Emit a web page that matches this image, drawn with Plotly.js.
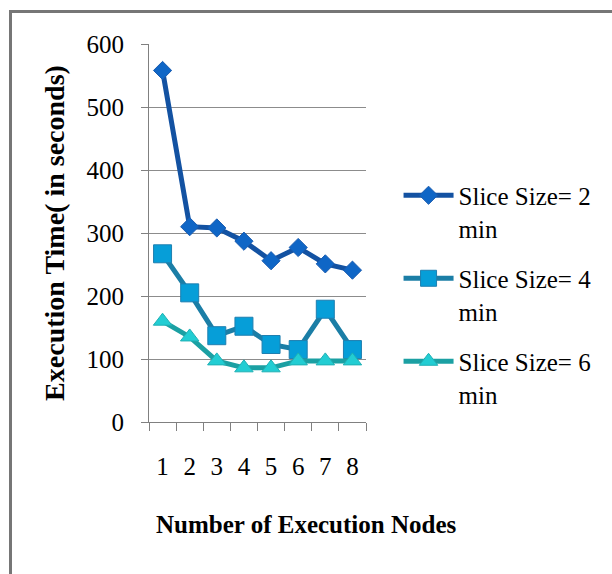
<!DOCTYPE html>
<html>
<head>
<meta charset="utf-8">
<script src="https://cdn.plot.ly/plotly-3.0.1.min.js"></script>
<style>
  html, body { margin: 0; padding: 0; background: #ffffff; }
  #wrap { position: relative; width: 612px; height: 574px; overflow: hidden; }
  #frame { position: absolute; left: 9px; top: 10px; width: 620px; height: 600px;
           border-left: 3px solid #767676; border-top: 3px solid #767676; }
  #chart { position: absolute; left: 0; top: 0; width: 612px; height: 574px; }
</style>
</head>
<body>
<div id="wrap">
  <div id="frame"></div>
  <div id="chart"></div>
</div>
<script>
const nodes = ['1', '2', '3', '4', '5', '6', '7', '8'];
const slice2 = [558, 310, 308, 287, 256, 277, 251, 241];
const slice4 = [267, 205, 137, 152, 123, 115, 179, 115];
const slice6 = [160, 135, 97, 86, 86, 97, 97, 97];
const seriesNames = ['Slice Size= 2<br>min', 'Slice Size= 4<br>min', 'Slice Size= 6<br>min'];
const yTicks = [0, 100, 200, 300, 400, 500, 600];

const serif = 'Liberation Serif';
const legendName = s => '<span style="font-family:Liberation Serif">' + s.split('<br>').join('</span><br><span style="font-family:Liberation Serif">') + '</span>';

const traces = [
  {
    x: nodes, y: slice2, name: legendName(seriesNames[0]), legendgroup: 'g1', type: 'scatter', mode: 'lines+markers',
    line: {color: '#1352a2', width: 5},
    marker: {symbol: 'diamond', size: 14, color: '#0f66c6', line: {color: '#1a5cb0', width: 1}}
  },
  {
    x: nodes, y: slice4, name: legendName(seriesNames[1]), legendgroup: 'g2', type: 'scatter', mode: 'lines+markers',
    line: {color: '#1b7ea6', width: 5},
    marker: {symbol: 'square', size: 18, color: '#069ed8', line: {color: '#1f7fb0', width: 1}}
  },
  {
    x: nodes, y: slice6, name: legendName(seriesNames[2]), legendgroup: 'g3', type: 'scatter', mode: 'lines+markers',
    line: {color: '#1ba0a3', width: 5},
    marker: {symbol: 'triangle-up', size: 16, color: '#22cdd3', line: {color: '#1fb0b4', width: 1}}
  }
];

const layout = {
  width: 612, height: 574,
  paper_bgcolor: 'rgba(0,0,0,0)',
  plot_bgcolor: 'rgba(0,0,0,0)',
  margin: {l: 149, r: 246, t: 43.5, b: 152, pad: 0},
  font: {family: serif, color: '#000000', size: 25},
  showlegend: true,
  xaxis: {
    type: 'category',
    range: [-0.5, 7.5],
    tickmode: 'array', tickvals: nodes, ticktext: nodes,
    showgrid: false,
    zeroline: false,
    showline: true, linecolor: '#808080', linewidth: 1,
    ticks: 'outside', ticklen: 8, tickcolor: '#808080', tickwidth: 1,
    tickson: 'boundaries',
    ticklabelstandoff: 22,
    tickfont: {family: serif, size: 25, color: '#000000'},
    fixedrange: true
  },
  yaxis: {
    range: [0, 600],
    tickvals: yTicks,
    ticktext: yTicks.map(String),
    showgrid: true, gridcolor: '#8c8c8c', gridwidth: 1,
    zeroline: false,
    showline: true, linecolor: '#808080', linewidth: 1,
    ticks: 'outside', ticklen: 7, tickcolor: '#808080', tickwidth: 1,
    ticklabelstandoff: 12,
    tickfont: {family: serif, size: 25, color: '#000000'},
    title: {text: '<b>Execution Time( in seconds)</b>', font: {family: serif, size: 28, color: '#000000'}, standoff: 13},
    automargin: false,
    fixedrange: true
  },
  legend: {
    x: 1.15, xanchor: 'left',
    y: 0.66, yanchor: 'top',
    valign: 'top',
    bgcolor: 'rgba(0,0,0,0)',
    font: {family: serif, size: 25, color: '#000000'},
    itemwidth: 50,
    tracegroupgap: 15
  },
  annotations: [{
    text: '<b>Number of Execution Nodes</b>',
    xref: 'paper', yref: 'paper',
    x: 0.728, y: -0.272, xanchor: 'center', yanchor: 'middle',
    showarrow: false,
    font: {family: serif, size: 25, color: '#000000'}
  }]
};

Plotly.newPlot('chart', traces, layout, {displayModeBar: false, staticPlot: true});
</script>
</body>
</html>
